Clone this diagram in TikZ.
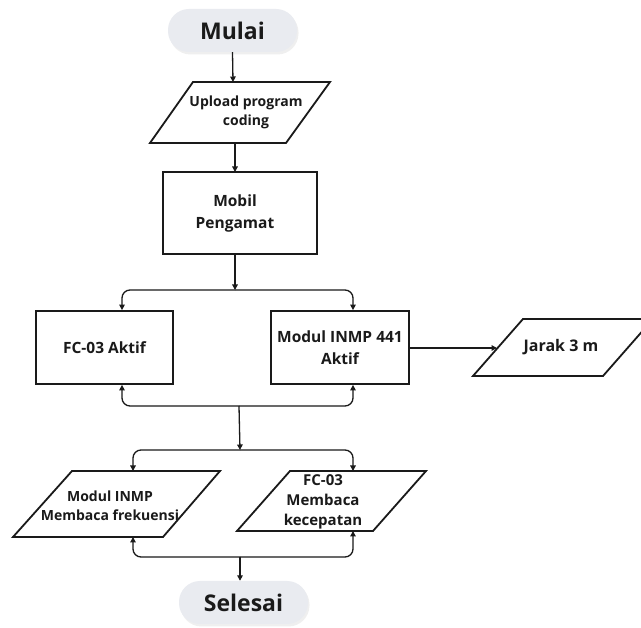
\documentclass[tikz,border=0pt]{standalone}
\usepackage{fontspec}
\setmainfont{Open Sans}
\usetikzlibrary{arrows.meta,shadows}
\definecolor{pillgray}{HTML}{E9EBF0}
\definecolor{ink}{HTML}{1A1A1A}
\begin{document}
\begin{tikzpicture}[x=1pt,y=-1pt,
  pill/.style={fill=pillgray, rounded corners=21pt, minimum width=129pt, minimum height=43pt,
    font=\fontsize{23}{26}\selectfont\bfseries, text=ink,
    drop shadow={opacity=0.12, shadow xshift=1.5pt, shadow yshift=-2.5pt}},
  procbox/.style={draw=ink, line width=1.8pt, inner sep=0pt, align=center, text=ink},
  para/.style={draw=ink, line width=1.8pt, line join=miter},
  txt/.style={align=center, text=ink, inner sep=0pt},
  conn/.style={draw=ink, line width=1.3pt, rounded corners=8pt},
  arr/.style={conn, -{Triangle[length=5.5pt,width=5.5pt]}}
]
\useasboundingbox (0,0) rectangle (641,628);
\fill[white] (0,0) rectangle (641,628);

% Start
\node[pill] (start) at (232.5,30.5) {Mulai};

% Upload parallelogram
\draw[para] (193,82) -- (330,82) -- (286,143) -- (150,143) -- cycle;
\node[txt, font=\fontsize{14}{19}\selectfont\bfseries] (upload) at (246,112.5) {Upload program\\coding};
\coordinate (uploadT) at (233,82);
\coordinate (uploadB) at (235,143);

% Mobil Pengamat
\node[procbox, minimum width=154pt, minimum height=82pt] (mobil) at (240,213) {};
\node[txt, font=\fontsize{15.5}{22}\selectfont\bfseries] (mobiltxt) at (235,213) {Mobil\\Pengamat};
\coordinate (mobilT) at (235,172);
\coordinate (mobilB) at (235,254);

% FC-03 Aktif & Modul
\node[procbox, minimum width=137pt, minimum height=73pt,
  font=\fontsize{15.5}{22}\selectfont\bfseries] (fc) at (104.5,347.5) {FC-03 Aktif};
\node[procbox, minimum width=138pt, minimum height=73pt,
  font=\fontsize{15.5}{22}\selectfont\bfseries] (modul) at (340,347.5) {Modul INMP 441\\Aktif};

% Jarak
\draw[para] (523,319) -- (653,319) -- (603,376) -- (473,376) -- cycle;
\node[txt, font=\fontsize{16}{20}\selectfont\bfseries] (jarak) at (561,347.5) {Jarak 3 m};
\coordinate (jarakL) at (497,348);

% lower parallelograms
\draw[para] (72,471) -- (220,471) -- (163,537) -- (13,537) -- cycle;
\node[txt, font=\fontsize{14}{18.5}\selectfont\bfseries] (baca1) at (110,506) {Modul INMP\\Membaca frekuensi};
\draw[para] (290,471) -- (426,471) -- (373,531) -- (237,531) -- cycle;
\node[txt, font=\fontsize{15}{20}\selectfont\bfseries] (baca2) at (323,502) {FC-03\\Membaca\\kecepatan};
\coordinate (baca1T) at (133,471);
\coordinate (baca1B) at (133,537);
\coordinate (baca2T) at (353,471);
\coordinate (baca2B) at (353,531);

% End
\node[pill] (end) at (243.5,602.5) {Selesai};

% junctions
\coordinate (j1) at (235,290);
\coordinate (j2) at (239,406);
\coordinate (j3) at (240,450);
\coordinate (j4) at (240,557);

% connectors
\draw[arr] (start.south) -- (uploadT);
\draw[arr] (uploadB) -- (mobilT);
\draw[arr] (mobilB) -- (j1);
\draw[arr] (j1) -| (fc.north -| 122,0);
\draw[arr] (j1) -| (modul.north -| 353,0);
\draw[arr] (modul.east |- jarakL) -- (jarakL);
\draw[arr] (j2) -| (fc.south -| 122,0);
\draw[arr] (j2) -| (modul.south -| 353,0);
\draw[arr] (j2) -- (j3);
\draw[arr] (j3) -| (baca1T);
\draw[arr] (j3) -| (baca2T);
\draw[arr] (j4) -| (baca1B);
\draw[arr] (j4) -| (baca2B);
\draw[arr] (j4) -- (end.north -| j4);
\end{tikzpicture}
\end{document}
